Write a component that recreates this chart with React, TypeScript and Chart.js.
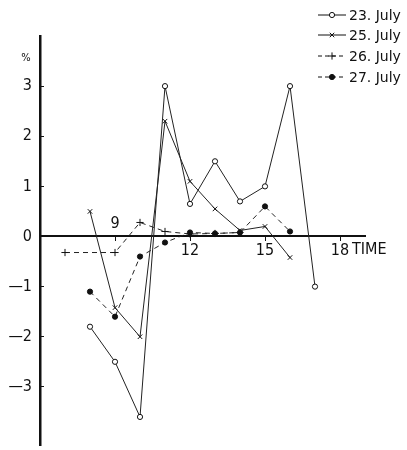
import React, { useEffect, useRef } from "react";
import { Chart, registerables } from "chart.js";

Chart.register(...registerables);

// ---- data ----
const seriesNames = ["23. July", "25. July", "26. July", "27. July"];
const hours23 = [8, 9, 10, 11, 12, 13, 14, 15, 16, 17];
const july23 = [-1.8, -2.5, -3.6, 3.0, 0.65, 1.5, 0.7, 1.0, 3.0, -1.0];
const hours25 = [8, 9, 10, 11, 12, 13, 14, 15, 16];
const july25 = [0.5, -1.42, -2.0, 2.3, 1.1, 0.55, 0.12, 0.2, -0.42];
const hours26 = [7, 9, 10, 11, 12, 13, 14];
const july26 = [-0.32, -0.32, 0.28, 0.1, 0.05, 0.06, 0.08];
const hours27 = [8, 9, 10, 11, 12, 13, 14, 15, 16];
const july27 = [-1.1, -1.6, -0.4, -0.12, 0.08, 0.06, 0.08, 0.6, 0.1];
const xTickValues = [9, 12, 15, 18];
const yTickValues = [-3, -2, -1, 0, 1, 2, 3];
const xUnit = "TIME";
const yUnit = "%";

const NARROW = "'Liberation Sans Narrow', 'DejaVu Sans Condensed', 'Liberation Sans', sans-serif";
const LEGEND_FONT = "'DejaVu Sans', sans-serif";

const toPoints = (xs: number[], ys: number[]) => xs.map((x, i) => ({ x, y: ys[i] }));

const styles = [
  { pointStyle: "circle", fill: "#fff", dash: [] as number[], radius: 2.6 },
  { pointStyle: "crossRot", fill: "#111", dash: [] as number[], radius: 3.2 },
  { pointStyle: "cross", fill: "#111", dash: [5, 4], radius: 3.6 },
  { pointStyle: "circle", fill: "#111", dash: [5, 4], radius: 2.6 },
];

function drawMarker(ctx: CanvasRenderingContext2D, style: string, x: number, y: number, r: number, fill: string) {
  ctx.save();
  ctx.setLineDash([]);
  ctx.strokeStyle = "#111";
  ctx.lineWidth = 1;
  ctx.beginPath();
  if (style === "circle") {
    ctx.arc(x, y, r, 0, Math.PI * 2);
    ctx.fillStyle = fill;
    ctx.fill();
    ctx.stroke();
  } else if (style === "crossRot") {
    ctx.moveTo(x - r * 0.7, y - r * 0.7);
    ctx.lineTo(x + r * 0.7, y + r * 0.7);
    ctx.moveTo(x + r * 0.7, y - r * 0.7);
    ctx.lineTo(x - r * 0.7, y + r * 0.7);
    ctx.stroke();
  } else {
    ctx.moveTo(x - r, y);
    ctx.lineTo(x + r, y);
    ctx.moveTo(x, y - r);
    ctx.lineTo(x, y + r);
    ctx.stroke();
  }
  ctx.restore();
}

const decorPlugin = {
  id: "decor",
  afterDraw(chart: any) {
    const ctx: CanvasRenderingContext2D = chart.ctx;
    const xs = chart.scales.x;
    const ys = chart.scales.y;
    ctx.save();
    ctx.fillStyle = "#111";
    // "9" label above the axis, "TIME" after 18
    ctx.font = `16px ${NARROW}`;
    ctx.textAlign = "center";
    ctx.textBaseline = "middle";
    ctx.fillText(String(xTickValues[0]), xs.getPixelForValue(xTickValues[0]), ys.getPixelForValue(0) - 13);
    ctx.textAlign = "left";
    const lastX = xs.getPixelForValue(xTickValues[xTickValues.length - 1]);
    ctx.fillText(xUnit, lastX + 12, ys.getPixelForValue(0) + 13);
    // y unit
    ctx.font = `11px ${NARROW}`;
    ctx.textAlign = "center";
    ctx.fillText(yUnit, chart.chartArea.left - 14, ys.getPixelForValue(3.55));
    // legend
    ctx.font = `14px ${LEGEND_FONT}`;
    ctx.textAlign = "left";
    const rowY = [15, 35, 56, 77];
    chart.data.datasets.forEach((ds: any, i: number) => {
      const st = styles[i];
      const y = rowY[i];
      ctx.save();
      ctx.strokeStyle = "#111";
      ctx.lineWidth = 1;
      ctx.setLineDash(st.dash.length ? [4, 3] : []);
      ctx.beginPath();
      ctx.moveTo(318, y);
      ctx.lineTo(346, y);
      ctx.stroke();
      ctx.restore();
      drawMarker(ctx, st.pointStyle, 332, y, st.radius, st.fill);
      ctx.fillStyle = "#111";
      ctx.fillText(ds.label, 349, y + 1);
    });
    ctx.restore();
  },
};

export default function App() {
  const ref = useRef<HTMLCanvasElement | null>(null);
  useEffect(() => {
    if (!ref.current) return;
    const data = [
      toPoints(hours23, july23),
      toPoints(hours25, july25),
      toPoints(hours26, july26),
      toPoints(hours27, july27),
    ];
    const chart = new Chart(ref.current, {
      type: "line",
      data: {
        datasets: data.map((d, i) => ({
          label: seriesNames[i],
          data: d,
          borderColor: "#222",
          borderWidth: 1,
          borderDash: styles[i].dash,
          pointStyle: styles[i].pointStyle as any,
          pointRadius: styles[i].radius,
          pointBackgroundColor: styles[i].fill,
          pointBorderColor: "#111",
          pointBorderWidth: 1,
          tension: 0,
          fill: false,
        })),
      },
      options: {
        responsive: false,
        animation: false,
        layout: { padding: { top: 36, right: 42, bottom: 0, left: 0 } },
        plugins: { legend: { display: false }, tooltip: { enabled: false } },
        scales: {
          x: {
            type: "linear",
            min: 6,
            max: 19,
            position: { y: 0 } as any,
            afterFit: (s: any) => {
              s.height = 0;
              s.paddingLeft = 0;
              s.paddingRight = 0;
            },
            afterBuildTicks: (s: any) => {
              s.ticks = xTickValues.map((v) => ({ value: v }));
            },
            grid: { display: true, drawOnChartArea: false, drawTicks: true, tickLength: 4, color: "#111" },
            border: { display: true, color: "#111", width: 2 },
            ticks: {
              color: "#111",
              font: { family: NARROW, size: 16 },
              padding: 1,
              maxRotation: 0,
              autoSkip: false,
              callback: (v: any) => (Number(v) === xTickValues[0] ? "" : String(v)),
            },
          },
          y: {
            type: "linear",
            min: -4.16,
            max: 4.0,
            position: "left",
            afterFit: (s: any) => {
              s.width = 40;
              s.paddingTop = 0;
              s.paddingBottom = 0;
            },
            afterBuildTicks: (s: any) => {
              s.ticks = yTickValues.map((v) => ({ value: v }));
            },
            grid: { display: true, drawOnChartArea: false, drawTicks: true, tickLength: -4, color: "#111" },
            border: { display: true, color: "#111", width: 2.5 },
            ticks: {
              color: "#111",
              font: { family: NARROW, size: 16 },
              padding: 12,
              autoSkip: false,
              callback: (v: any) => (Number(v) < 0 ? "\u2014" + Math.abs(Number(v)) : String(v)),
            },
          },
        },
      },
      plugins: [decorPlugin],
    });
    return () => chart.destroy();
  }, []);
  return (
    <div style={{ position: "fixed", left: 0, top: 0, width: 407, height: 450, background: "#fff" }}>
      <canvas ref={ref} width={407} height={450} style={{ display: "block" }} />
    </div>
  );
}
